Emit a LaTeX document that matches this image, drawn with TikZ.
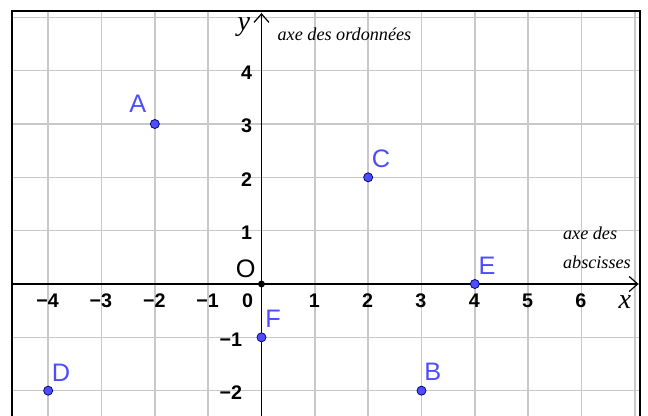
\documentclass[tikz,border=0pt]{standalone}
\usepackage{fontspec}
\setmainfont{Liberation Serif}
\setsansfont{Liberation Sans}
\usetikzlibrary{arrows.meta}
\definecolor{ggblue}{RGB}{77,77,255}
\definecolor{gridgray}{RGB}{200,200,200}
\begin{document}
\begin{tikzpicture}[x=1cm,y=1cm,
  gridline/.style={draw=gridgray, line width=0.8pt},
  axisline/.style={line width=0.65pt, -{Straight Barb[length=4.5pt,width=8pt]}},
  ticklab/.style={font=\sffamily\bfseries\fontsize{10.5}{11}\selectfont, inner sep=0pt},
  ptdot/.style={circle, fill=ggblue, draw=black!55!blue, line width=0.4pt, inner sep=0pt, minimum size=0.17cm},
  ptlabel/.style={font=\sffamily\fontsize{13.5}{14}\selectfont, text=ggblue, inner sep=0pt},
  axename/.style={font=\itshape\fontsize{9.7}{12}\selectfont, inner sep=0pt, anchor=base west},
  axvar/.style={font=\itshape\fontsize{15}{16}\selectfont, inner sep=0pt}
]
\useasboundingbox (-4.903,-2.475) rectangle (7.247,5.325);
\clip (-4.903,-2.475) rectangle (7.247,5.325);
% grid
\begin{scope}
\clip (-4.68,-3) rectangle (7.1,5.12);
\foreach \i in {-4,...,7} \draw[gridline] (\i,-3) -- (\i,5.12);
\foreach \j in {-2,...,5} \draw[gridline] (-4.68,\j) -- (7.1,\j);
\end{scope}
% frame
\draw[line width=1.1pt] (-4.68,-3) rectangle (7.1,5.12);
% axes
\coordinate (xs) at (-4.68,0);
\coordinate (xe) at (7.07,0);
\coordinate (ys) at (0,-3);
\coordinate (ye) at (0,5.08);
\draw[axisline] (xs) -- (xe);
\draw[axisline] (ys) -- (ye);
% tick labels x
\foreach \i/\t in {-4/−4,-3/−3,-2/−2,-1/−1,1/1,2/2,3/3,4/4,5/5,6/6}
  \node[ticklab] (tx\i) at (\i-0.01,-0.32) {\t};
\node[ticklab] (tx0) at (-0.26,-0.32) {0};
% tick labels y
\foreach \j in {1,2,3,4}
  \node[ticklab, anchor=east] (ty\j) at (-0.17,\j-0.04) {\j};
\foreach \j/\t in {-1/−1,-2/−2}
  \node[ticklab, anchor=east] (ty\j) at (-0.356,\j-0.045) {\t};
% axis variable names
\node[axvar] (xlab) at (6.815,-0.33) {x};
\node[axvar] (ylab) at (-0.33,4.81) {y};
\node[font=\sffamily\fontsize{13.5}{14}\selectfont, inner sep=0pt] (Olab) at (-0.295,0.28) {O};
% axis names
\node[axename] (ord) at (0.296,4.562) {axe des ordonnées};
\node[axename] (abs1) at (5.648,0.825) {axe des};
\node[axename] (abs2) at (5.648,0.294) {abscisses};
% origin
\fill (0,0) circle (0.065);
% points
\node[ptdot] (A) at (-2,3) {};
\node[ptdot] (B) at (3,-2) {};
\node[ptdot] (C) at (2,2) {};
\node[ptdot] (D) at (-4,-2) {};
\node[ptdot] (E) at (4,0) {};
\node[ptdot] (F) at (0,-1) {};
\node[ptlabel] (Al) at (-2.32,3.385) {A};
\node[ptlabel] (Bl) at (3.21,-1.65) {B};
\node[ptlabel] (Cl) at (2.24,2.35) {C};
\node[ptlabel] (Dl) at (-3.76,-1.66) {D};
\node[ptlabel] (El) at (4.23,0.34) {E};
\node[ptlabel] (Fl) at (0.22,-0.66) {F};
\end{tikzpicture}
\end{document}
